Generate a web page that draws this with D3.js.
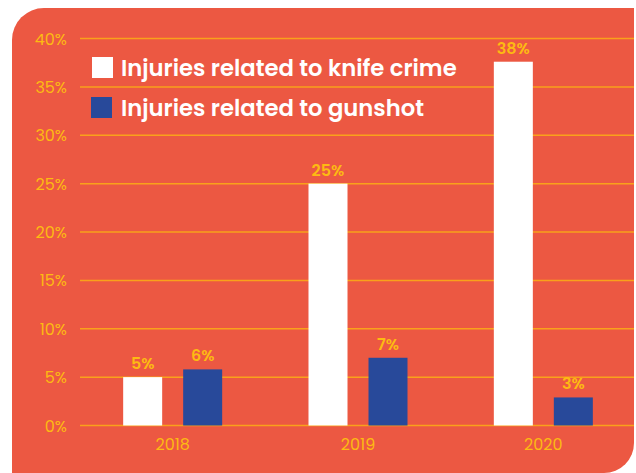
<!DOCTYPE html>
<meta charset="utf-8">
<style>
    body { margin: 0; background: #fff; }
    text { font-family: Poppins, "Open Sans", Lato, sans-serif; }
    .axis text { fill: #FDBA12; font-size: 16px; }
    .axis .domain { display: none; }
    .grid line { stroke: #F9A11B; stroke-width: 1.5; }
    .lbl { fill: #FDBA12; font-size: 16px; font-weight: 600; text-anchor: middle; }
    .legend text { fill: #fff; font-size: 22.7px; font-weight: 600; }
</style>
<body>
    <svg width="636" height="473"></svg>
    <script src="https://d3js.org/d3.v7.min.js"></script>
    <script>
        var years = ["2018", "2019", "2020"];
        var knife = [5, 25, 37.6];
        var gunshot = [5.8, 7, 2.9];
        var seriesNames = ["Injuries related to knife crime", "Injuries related to gunshot"];
        var seriesColors = ["#FFFFFF", "#28499A"];
        var yTicks = [0, 5, 10, 15, 20, 25, 30, 35, 40];

        var svg = d3.select("svg");

        // panel with two rounded corners (top-left, bottom-right)
        var px0 = 12, py0 = 8, px1 = 634, py1 = 473, r1 = 32, r2 = 30;
        svg.append("path")
            .attr("d", "M" + px0 + "," + (py0 + r1) +
                " A" + r1 + "," + r1 + " 0 0 1 " + (px0 + r1) + "," + py0 +
                " L" + px1 + "," + py0 +
                " L" + px1 + "," + (py1 - r2) +
                " A" + r2 + "," + r2 + " 0 0 1 " + (px1 - r2) + "," + py1 +
                " L" + px0 + "," + py1 + " Z")
            .attr("fill", "#EC5842");

        var y = d3.scaleLinear().domain([0, 40]).range([425.5, 38.5]);
        var x0 = d3.scaleBand().domain(years).range([80, 636]).padding(0);
        var x1 = d3.scaleBand().domain(["knife", "gun"]).range([0, 99]).paddingInner(0.35).paddingOuter(0);

        // gridlines
        svg.append("g").attr("class", "grid")
            .selectAll("line").data(yTicks).join("line")
            .attr("x1", 80).attr("x2", px1)
            .attr("y1", function (d) { return y(d); })
            .attr("y2", function (d) { return y(d); });

        // y axis labels
        svg.append("g").attr("class", "axis")
            .attr("transform", "translate(67,0)")
            .call(d3.axisLeft(y).tickValues(yTicks).tickSize(0).tickPadding(0)
                .tickFormat(function (d) { return d + "%"; }))
            .selectAll("text").attr("dy", "0.35em");

        // x axis labels
        svg.append("g").attr("class", "axis")
            .attr("transform", "translate(0," + y(0) + ")")
            .call(d3.axisBottom(x0).tickSize(0).tickPadding(13));

        var rows = [];
        years.forEach(function (yr, i) {
            rows.push({ year: yr, key: "knife", v: knife[i], c: seriesColors[0] });
            rows.push({ year: yr, key: "gun", v: gunshot[i], c: seriesColors[1] });
        });

        function bx(d) {
            return x0(d.year) + x0.bandwidth() / 2 - 49.5 + x1(d.key);
        }

        svg.append("g").selectAll("rect").data(rows).join("rect")
            .attr("x", bx)
            .attr("y", function (d) { return y(d.v); })
            .attr("width", x1.bandwidth())
            .attr("height", function (d) { return y(0) - y(d.v); })
            .attr("fill", function (d) { return d.c; });

        svg.append("g").selectAll("text").data(rows).join("text")
            .attr("class", "lbl")
            .attr("x", function (d) { return bx(d) + x1.bandwidth() / 2; })
            .attr("y", function (d) { return y(d.v) - 8; })
            .text(function (d) { return Math.round(d.v) + "%"; });

        // legend
        var leg = svg.append("g").attr("class", "legend");
        seriesNames.forEach(function (name, i) {
            var ly = 57 + i * 40;
            leg.append("rect").attr("x", 92 - i).attr("y", ly)
                .attr("width", 21).attr("height", 21).attr("fill", seriesColors[i]);
            leg.append("text").attr("x", 121).attr("y", ly + 19).text(name);
        });
    </script>
</body>
